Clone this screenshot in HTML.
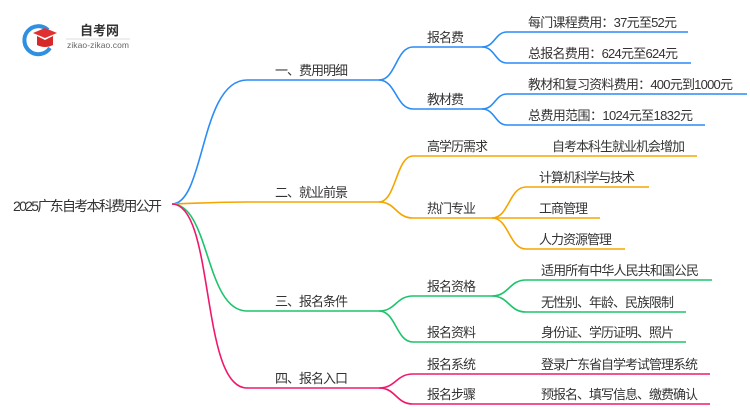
<!DOCTYPE html>
<html><head><meta charset="utf-8"><style>
html,body{margin:0;padding:0;background:#fff;}
svg{display:block;}
text{font-family:"Liberation Sans","Noto Sans CJK SC",sans-serif;fill:#333;font-size:13px;}
</style></head><body>
<svg width="750" height="410" viewBox="0 0 750 410" xmlns="http://www.w3.org/2000/svg">
<path d="M48 30 A14 14 0 1 0 50 48" fill="none" stroke="#2f8fe0" stroke-width="4"/>
<path d="M33 33 L45 28 L57 33 L45 38 Z" fill="#e03030"/>
<path d="M37 36 L37 45 Q45 49 53 45 L53 36 L45 40 Z" fill="#d62a2a"/>
<text x="80" y="35" style="font-size:13px;font-weight:bold;fill:#333">自考网</text>
<line x1="66" y1="39" x2="130" y2="39" stroke="#ddd" stroke-width="1"/>
<text x="67" y="48" style="font-size:8.5px;fill:#666" textLength="62">zikao-zikao.com</text>

<text x="13" y="211" style="font-size:14px" textLength="149">2025广东自考本科费用公开</text>

<g fill="none" stroke-width="1.6">
<g stroke="#2a8cf5">
<path d="M172 204 C205 204 200 80 247 80 L379 80"/>
<path d="M379 80 C396 80 396 47 413 47 L482 47"/>
<path d="M379 80 C396 80 396 109 413 109 L482 109"/>
<path d="M482 47 C495 47 495 32 507 32 L688 32"/>
<path d="M482 47 C495 47 495 63 507 63 L691 63"/>
<path d="M482 109 C495 109 495 94 507 94 L747 94"/>
<path d="M482 109 C495 109 495 125 507 125 L705 125"/>
</g>
<g stroke="#f5a500">
<path d="M172 204 C205 203 220 202 247 202 L379 202"/>
<path d="M379 202 C396 202 396 156 413 156 L697 156"/>
<path d="M379 202 C396 202 396 218 413 218 L492 218"/>
<path d="M492 218 C509 218 509 187 526 187 L649 187"/>
<path d="M492 218 L600 218"/>
<path d="M492 218 C509 218 509 249 526 249 L625 249"/>
</g>
<g stroke="#1ec46c">
<path d="M172 204 C210 204 205 311 247 311 L379 311"/>
<path d="M379 311 C396 311 396 296 413 296 L492 296"/>
<path d="M379 311 C396 311 396 342 413 342 L686 342"/>
<path d="M492 296 C509 296 509 280 526 280 L712 280"/>
<path d="M492 296 C509 296 509 312 526 312 L686 312"/>
</g>
<g stroke="#f0186c">
<path d="M172 204 C215 204 200 388 247 388 L379 388"/>
<path d="M379 388 C396 388 396 374 413 374 L710 374"/>
<path d="M379 388 C396 388 396 404 413 404 L710 404"/>
</g>
</g>

<text x="275" y="75" textLength="73">一、费用明细</text>
<text x="275" y="197" textLength="73">二、就业前景</text>
<text x="275" y="306" textLength="73">三、报名条件</text>
<text x="275" y="383" textLength="73">四、报名入口</text>

<text x="427" y="42" textLength="37">报名费</text>
<text x="427" y="104" textLength="37">教材费</text>
<text x="427" y="151" textLength="61">高学历需求</text>
<text x="427" y="213" textLength="49">热门专业</text>
<text x="427" y="291" textLength="49">报名资格</text>
<text x="427" y="337" textLength="49">报名资料</text>
<text x="427" y="369" textLength="49">报名系统</text>
<text x="427" y="399" textLength="49">报名步骤</text>

<text x="528" y="27" textLength="149">每门课程费用：37元至52元</text>
<text x="528" y="58" textLength="150">总报名费用：624元至624元</text>
<text x="528" y="89" textLength="205">教材和复习资料费用：400元到1000元</text>
<text x="528" y="120" textLength="165">总费用范围：1024元至1832元</text>
<text x="552" y="151" textLength="133">自考本科生就业机会增加</text>
<text x="539" y="182" textLength="96">计算机科学与技术</text>
<text x="539" y="213" textLength="49">工商管理</text>
<text x="539" y="244" textLength="73">人力资源管理</text>
<text x="541" y="275" textLength="158">适用所有中华人民共和国公民</text>
<text x="541" y="307" textLength="133">无性别、年龄、民族限制</text>
<text x="541" y="337" textLength="133">身份证、学历证明、照片</text>
<text x="541" y="369" textLength="157">登录广东省自学考试管理系统</text>
<text x="541" y="399" textLength="157">预报名、填写信息、缴费确认</text>
</svg>
</body></html>
